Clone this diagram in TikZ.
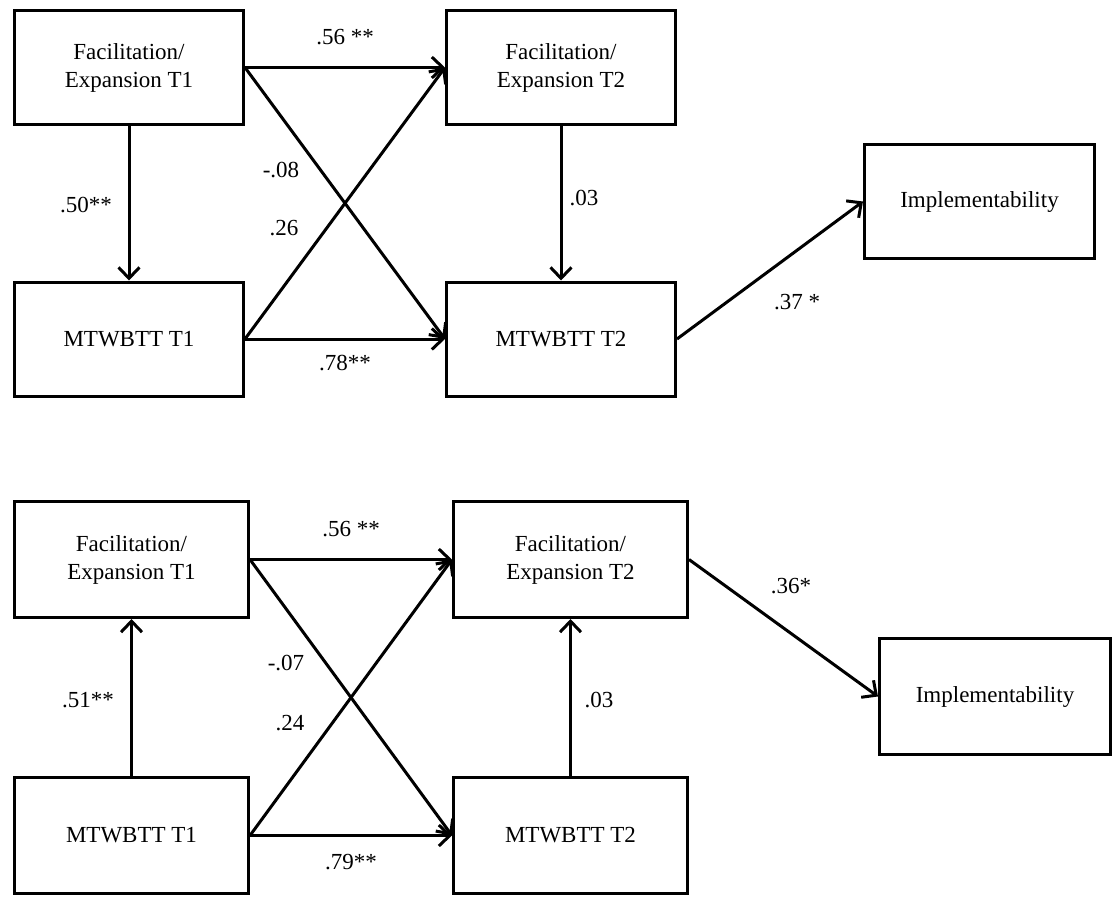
\documentclass[tikz,border=0pt]{standalone}
\usepackage{fontspec}
\setmainfont{Liberation Serif}
\usetikzlibrary{arrows.meta,shadows}

\tikzset{
  varbox/.style={draw=black, line width=3pt, fill=white, align=center,
    font=\fontsize{23}{28}\selectfont,
    drop shadow={shadow xshift=1.5pt, shadow yshift=-1.5pt, fill=black!30, opacity=0.6}},
  pathcoef/.style={font=\fontsize{23}{28}\selectfont, inner sep=0pt},
  link/.style={line width=3pt, -{Straight Barb[length=11pt,width=21pt,line width=3pt]}}
}

\begin{document}
\begin{tikzpicture}[x=1pt, y=-1pt]
  \useasboundingbox (0,0) rectangle (1112,897);

  % ---- Model 1: MTWBTT T2 predicts implementability ----
  \node[varbox, minimum width=229pt, minimum height=114pt] (fa1) at (129,67.5) {Facilitation/\\Expansion T1};
  \node[varbox, minimum width=229pt, minimum height=114pt] (mt1) at (129,339) {MTWBTT T1};
  \node[varbox, minimum width=229pt, minimum height=114pt] (fa2) at (561,67.5) {Facilitation/\\Expansion T2};
  \node[varbox, minimum width=229pt, minimum height=114pt] (mt2) at (561,339) {MTWBTT T2};
  \node[varbox, minimum width=230pt, minimum height=114pt] (imp) at (979.5,201.5) {Implementability};

  \draw[link] (fa1.east) -- (fa2.west);
  \draw[link] (fa1.east) -- (mt2.west);
  \draw[link] (mt1.east) -- (fa2.west);
  \draw[link] (mt1.east) -- (mt2.west);
  \draw[link] (fa1.south) -- (mt1.north);
  \draw[link] (fa2.south) -- (mt2.north);
  \draw[link] (mt2.east) -- (imp.west);

  \node[pathcoef] (c1a) at (345,37) {.56 **};
  \node[pathcoef] (c1b) at (281,170) {-.08};
  \node[pathcoef] (c1c) at (86,205) {.50**};
  \node[pathcoef] (c1d) at (284,228) {.26};
  \node[pathcoef] (c1e) at (345,363) {.78**};
  \node[pathcoef] (c1f) at (584,198) {.03};
  \node[pathcoef] (c1g) at (797,302) {.37 *};

  % ---- Model 2: Facilitation/Expansion T2 predicts implementability ----
  \node[varbox, minimum width=234pt, minimum height=116pt] (fb1) at (131.5,559.5) {Facilitation/\\Expansion T1};
  \node[varbox, minimum width=234pt, minimum height=116pt] (mb1) at (131.5,835.5) {MTWBTT T1};
  \node[varbox, minimum width=234pt, minimum height=116pt] (fb2) at (570.5,559.5) {Facilitation/\\Expansion T2};
  \node[varbox, minimum width=234pt, minimum height=116pt] (mb2) at (570.5,835.5) {MTWBTT T2};
  \node[varbox, minimum width=231pt, minimum height=116pt] (imq) at (995,696.5) {Implementability};

  \draw[link] (fb1.east) -- (fb2.west);
  \draw[link] (fb1.east) -- (mb2.west);
  \draw[link] (mb1.east) -- (fb2.west);
  \draw[link] (mb1.east) -- (mb2.west);
  \draw[link] (mb1.north) -- (fb1.south);
  \draw[link] (mb2.north) -- (fb2.south);
  \draw[link] (fb2.east) -- (imq.west);

  \node[pathcoef] (c2a) at (351,529) {.56 **};
  \node[pathcoef] (c2b) at (286,663) {-.07};
  \node[pathcoef] (c2c) at (88,700) {.51**};
  \node[pathcoef] (c2d) at (290,723) {.24};
  \node[pathcoef] (c2e) at (351,862) {.79**};
  \node[pathcoef] (c2f) at (599,700) {.03};
  \node[pathcoef] (c2g) at (791,586) {.36*};
\end{tikzpicture}
\end{document}
